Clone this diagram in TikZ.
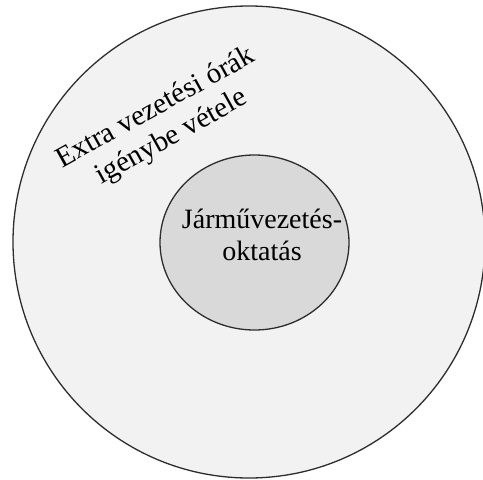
\documentclass[tikz,border=0pt]{standalone}
\usepackage{fontspec}
\setmainfont{Liberation Serif}
\usepackage{xcolor}
\usetikzlibrary{calc}
\definecolor{outerfill}{RGB}{242,242,242}
\definecolor{innerfill}{RGB}{217,217,217}
\definecolor{rimline}{RGB}{45,45,45}
\tikzset{
	rim/.style={draw=rimline, line width=1.3pt},
	lbl/.style={align=center, inner sep=0pt, font=\fontsize{28}{32}\selectfont}
}
\begin{document}
\begin{tikzpicture}[x=1pt, y=-1pt]
		\useasboundingbox (0,0) rectangle (483,480);
		\coordinate (O) at (249,242);
		\coordinate (I) at (254.5,242.5);
		\fill[outerfill] (O) circle[radius=236pt];
		\draw[rim] (O) circle[radius=236pt];
		\fill[innerfill] (I) ellipse[x radius=94.5pt, y radius=87.5pt];
		\draw[rim] (I) ellipse[x radius=94.5pt, y radius=87.5pt];
		\node[lbl, rotate=29, font=\fontsize{29}{33}\selectfont] (extra) at (164,123) {Extra vezetési órák\\igénybe vétele};
		\node[lbl] (oktatas) at (262,234.5) {Járművezetés-\\oktatás};
	\end{tikzpicture}
\end{document}
